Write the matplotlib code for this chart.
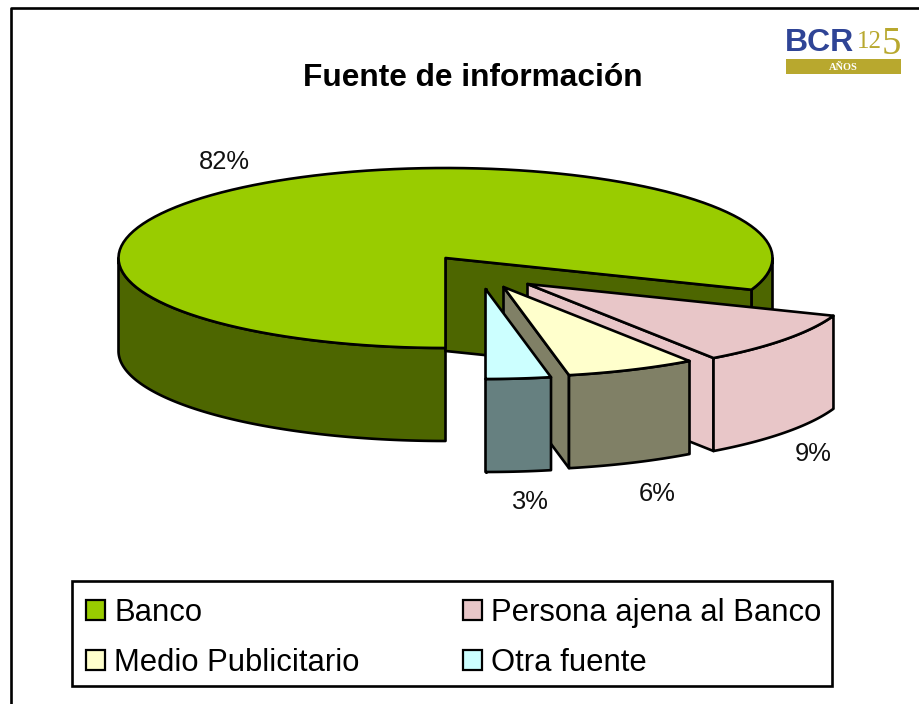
import matplotlib
matplotlib.use("Agg")
import matplotlib.pyplot as plt
import numpy as np
from matplotlib.patches import Polygon, Patch, Rectangle

# Datos
categorias = ["Banco", "Persona ajena al Banco", "Medio Publicitario", "Otra fuente"]
valores = [82, 9, 6, 3]
colores = ["#99cc00", "#e8c6c8", "#ffffcc", "#ccffff"]
colores_lado = ["#4d6600", "#e8c6c8", "#808066", "#668080"]

# Geometria del pastel en pixeles
cx, cy = 445.5, 258
rx, ry = 327, 90
prof = 93
estira = 1.07  # la perspectiva abre las porciones del frente
mover_x = [0, 82, 58, 40]
mover_y = [0, 26, 29, 31]
pos_etiqueta = [(224, 162), (813, 454), (657, 494), (529, 502)]

plt.rcParams["font.family"] = ["Liberation Sans", "DejaVu Sans"]
fig = plt.figure(figsize=(9.19, 7.04), dpi=100)
ax = fig.add_axes([0, 0, 1, 1])
ax.set_xlim(0, 919)
ax.set_ylim(704, 0)
ax.axis("off")


def borde(t0, t1, ax0, ay0):
    t = np.radians(np.linspace(t0, t1, 120))
    return np.column_stack([ax0 + rx*np.sin(t), ay0 - ry*np.cos(t)])


def dibuja(puntos, color):
    ax.add_patch(Polygon(puntos, closed=True, facecolor=color, edgecolor="black",
                         lw=1.9, joinstyle="round"))


def lado(t0, t1, ax0, ay0, color):
    arco = borde(t0, t1, ax0, ay0)
    abajo = arco[::-1] + [0, prof]
    dibuja(np.vstack([arco, abajo]), color)


def cara(t, ax0, ay0, color):
    p = borde(t, t, ax0, ay0)[0]
    dibuja([(ax0, ay0), p, p + [0, prof], (ax0, ay0 + prof)], color)


# Angulos de cada porcion, terminan todas en las 6 en punto
acum = np.cumsum(valores) / np.sum(valores) * 360
fin_banco = 180 - (360 - acum[0])*estira
fin_persona = 180 - (360 - acum[1])*estira
fin_medio = 180 - (360 - acum[2])*estira
limites = [fin_banco, fin_persona, fin_medio, 180]

# Banco: lados, pared interior y tapa
lado(180, 270, cx, cy, colores_lado[0])
lado(90, fin_banco, cx, cy, colores_lado[0])
cara(fin_banco, cx, cy, colores_lado[0])
dibuja(np.vstack([[(cx, cy)], borde(180, 360 + fin_banco, cx, cy)]), colores[0])

# Porciones separadas, de atras hacia adelante
for i in [1, 2, 3]:
    x0 = cx + mover_x[i]
    y0 = cy + mover_y[i]
    cara(limites[i], x0, y0, colores_lado[i])
    lado(limites[i - 1], limites[i], x0, y0, colores_lado[i])
    dibuja(np.vstack([[(x0, y0)], borde(limites[i - 1], limites[i], x0, y0)]), colores[i])

for v, (x, y) in zip(valores, pos_etiqueta):
    ax.text(x, y, f"{v}%", fontsize=18.4, ha="center", va="center", color="#111111")

ax.text(473, 78, "Fuente de información", fontsize=22.8, fontweight="bold",
        ha="center", va="center", color="black")

# Marco del grafico, abierto a la derecha y abajo
ax.plot([10.5, 10.5, 919], [704, 8, 8], color="black", lw=1.9)

# Leyenda: el cuadro va aparte para poder bajar el texto dentro de el
ax.add_patch(Rectangle((72, 581), 760, 105, facecolor="white", edgecolor="black", lw=1.9))
orden = [0, 2, 1, 3]
manijas = [Patch(facecolor=colores[i], edgecolor="black", lw=1.6, label=categorias[i]) for i in orden]
ax.legend(handles=manijas, ncol=2, loc="lower left", bbox_to_anchor=(72, 692),
          bbox_transform=ax.transData, borderaxespad=0, fontsize=22.3, frameon=False,
          handlelength=0.6, handleheight=0.6, handletextpad=0.32, columnspacing=3.33,
          labelspacing=0.65, borderpad=0.45)

# Logo
ax.text(785, 43, "BCR", fontsize=23, fontweight="bold", color="#2f4496", ha="left", va="center")
ax.add_patch(Rectangle((786, 59), 115, 15, facecolor="#b8a82e", edgecolor="none"))
ax.text(857, 42, "12", fontsize=18, color="#b8a82e", ha="left", va="center", family="Liberation Serif")
ax.text(882, 45, "5", fontsize=28, color="#b8a82e", ha="left", va="center", family="Liberation Serif")
ax.text(843, 67, "AÑOS", fontsize=7.5, color="white", fontweight="bold", ha="center", va="center",
        family="Liberation Serif")

fig.savefig("out.png", dpi=100)
